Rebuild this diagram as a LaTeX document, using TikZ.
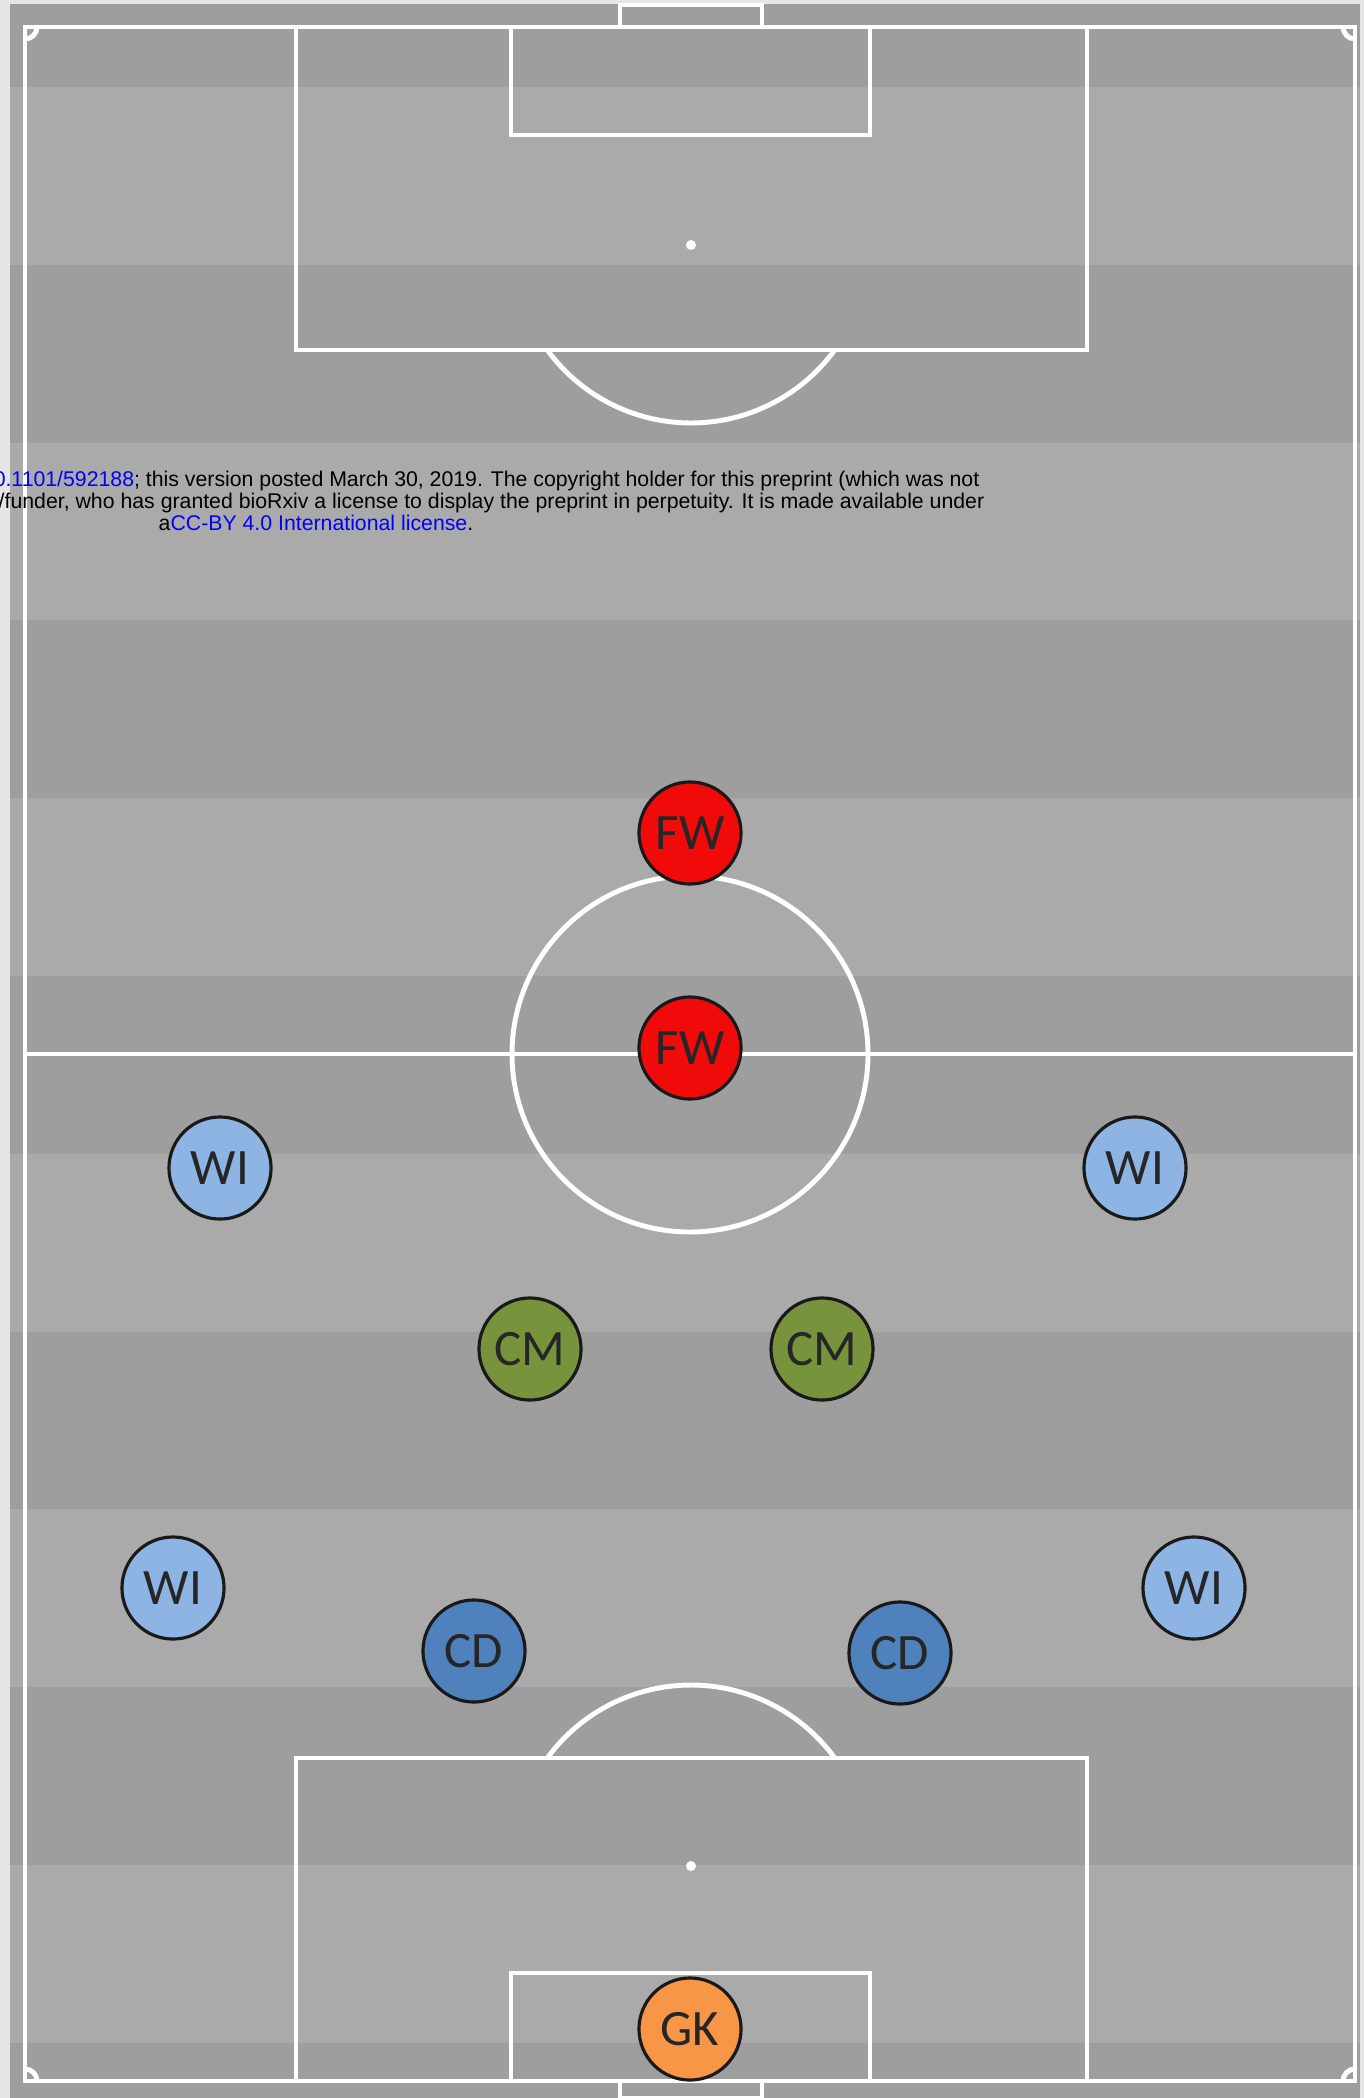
\documentclass[tikz,border=0pt]{standalone}
\usepackage{xcolor}
\usepackage{fontspec}
\usepackage{tikz}
\usetikzlibrary{
    arrows.meta,
    positioning,
    calc,
    backgrounds
}
\newfontfamily\playerfont{Carlito}
\newfontfamily\notefont{Liberation Sans}

\definecolor{marginpaper}{RGB}{230,230,230}
\definecolor{darkband}{RGB}{158,158,158}
\definecolor{lightband}{RGB}{170,170,170}
\definecolor{fwred}{RGB}{240,10,10}
\definecolor{wiblue}{RGB}{142,180,227}
\definecolor{cmgreen}{RGB}{119,147,60}
\definecolor{cdblue}{RGB}{79,129,189}
\definecolor{gkorange}{RGB}{247,150,70}
\definecolor{linkblue}{RGB}{0,0,255}

\begin{document}
\begin{tikzpicture}[
    x=0.01cm, y=-0.01cm,
    pitchline/.style={white, line width=1.4pt},
    player/.style={circle, draw=black!90, line width=0.9pt,
        minimum size=1.02cm, inner sep=0pt,
        font=\playerfont\fontsize{14.5}{15}\selectfont, text=black!85},
    note/.style={inner sep=0pt, font=\notefont\fontsize{6.05}{7}\selectfont}
]

\useasboundingbox (0,0) rectangle (1364,2098);

\fill[marginpaper] (0,0) rectangle (1364,2098);
\fill[darkband] (10,4) rectangle (1360,2098);
\foreach \i in {0,2,...,10}
    \fill[lightband] (10,{87+177.8*\i}) rectangle (1360,{264.8+177.8*\i});

\draw[pitchline] (25,27) rectangle (1355,2081);
\draw[pitchline] (620,5) rectangle (762,27);
\draw[pitchline] (620,2081) rectangle (762,2098);

\draw[pitchline] (296,27) rectangle (1087,350);
\draw[pitchline] (511,27) rectangle (870,135);
\fill[white] (691,245) circle[radius=5];
\draw[pitchline] (691,245) ++(36.1:178)
    arc[start angle=36.1, end angle=143.9, radius=178];

\draw[pitchline] (296,1758) rectangle (1087,2081);
\draw[pitchline] (511,1973) rectangle (870,2081);
\fill[white] (691,1866) circle[radius=5];
\draw[pitchline] (691,1863) ++(216.1:178)
    arc[start angle=216.1, end angle=323.9, radius=178];

\draw[pitchline] (25,1054) -- (1355,1054);
\draw[pitchline] (690,1054) circle[radius=178];

\draw[pitchline] (37,27) arc[start angle=0, end angle=90, radius=12];
\draw[pitchline] (1343,27) arc[start angle=180, end angle=90, radius=12];
\draw[pitchline] (37,2081) arc[start angle=0, end angle=-90, radius=12];
\draw[pitchline] (1343,2081) arc[start angle=180, end angle=270, radius=12];

\node[note, anchor=base east] (doiline) at (980,487)
    {\textcolor{linkblue}{0.1101/592188}; this version posted March 30, 2019. The copyright holder for this preprint (which was not};
\node[note, anchor=base east] (funderline) at (985,509)
    {/funder, who has granted bioRxiv a license to display the preprint in perpetuity. It is made available under};
\node[note, anchor=base west] (licenseline) at (158,531)
    {a\textcolor{linkblue}{CC-BY 4.0 International license}.};

\node[player, fill=fwred] (fwtop) at (690,833) {FW};
\node[player, fill=fwred] (fwmid) at (690,1048) {FW};
\node[player, fill=wiblue] (wileftup) at (220,1168) {WI};
\node[player, fill=wiblue] (wirightup) at (1135,1168) {WI};
\node[player, fill=cmgreen] (cmleft) at (530,1349) {CM};
\node[player, fill=cmgreen] (cmright) at (822,1349) {CM};
\node[player, fill=wiblue] (wileftlow) at (173,1588) {WI};
\node[player, fill=wiblue] (wirightlow) at (1194,1588) {WI};
\node[player, fill=cdblue] (cdleft) at (474,1651) {CD};
\node[player, fill=cdblue] (cdright) at (900,1653) {CD};
\node[player, fill=gkorange] (gk) at (690,2029) {GK};

\end{tikzpicture}
\end{document}
